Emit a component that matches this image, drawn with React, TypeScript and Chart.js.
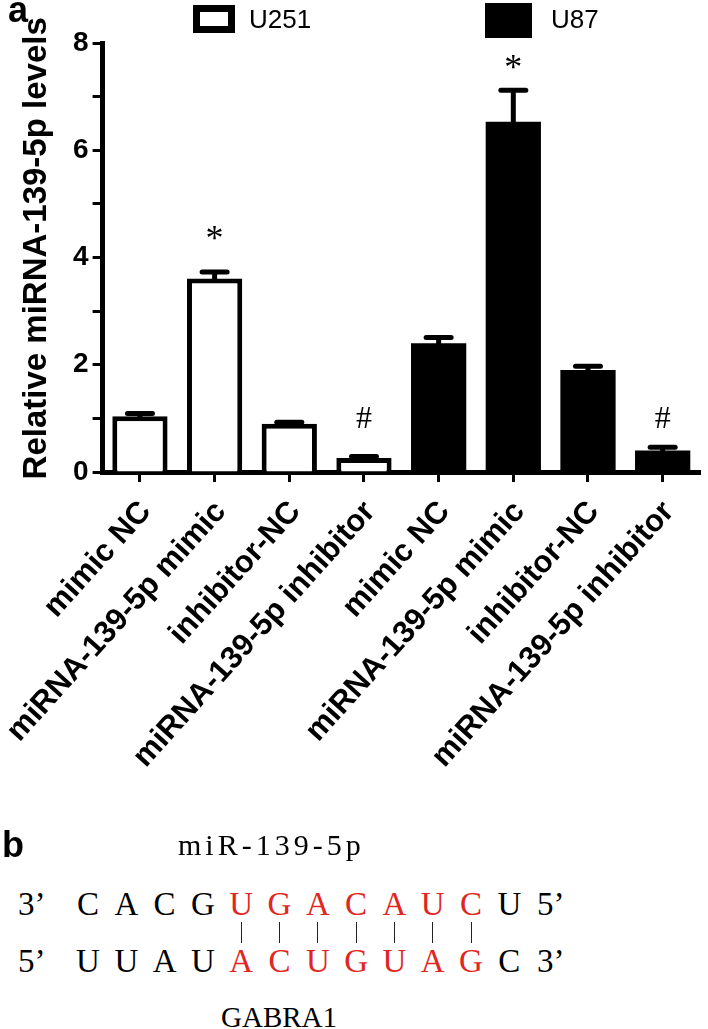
import React, { useEffect, useRef } from 'react';
import { Chart, registerables } from 'chart.js';

Chart.register(...registerables);

// ---------- data ----------
const categories = [
  'mimic NC',
  'miRNA-139-5p mimic',
  'inhibitor-NC',
  'miRNA-139-5p inhibitor',
  'mimic NC',
  'miRNA-139-5p mimic',
  'inhibitor-NC',
  'miRNA-139-5p inhibitor',
];
const seriesNames = ['U251', 'U87'];
const u251Means = [1.04, 3.61, 0.9, 0.26];
const u251Errors = [0.05, 0.12, 0.03, 0.03];
const u87Means = [2.4, 6.53, 1.9, 0.4];
const u87Errors = [0.11, 0.59, 0.07, 0.06];
const yTickLabels = [0, 2, 4, 6, 8];
const markText = ['*', '#', '*', '#'];
const markCategory = [1, 3, 5, 7];
const markValue = [4.45, 1.02, 7.64, 1.02];

const yTitle = 'Relative miRNA-139-5p levels';
const mirName = 'miR-139-5p';
const targetName = 'GABRA1';
const mirSeq = ['C', 'A', 'C', 'G', 'U', 'G', 'A', 'C', 'A', 'U', 'C', 'U'];
const targetSeq = ['U', 'U', 'A', 'U', 'A', 'C', 'U', 'G', 'U', 'A', 'G', 'C'];
const pairStart = 4;
const pairEnd = 10;

// ---------- layout ----------
const W = 708;
const CANVAS_H = 830;
const SANS = "'Liberation Sans', Arial, sans-serif";
const SERIF = "'Liberation Serif', 'Times New Roman', serif";
const RED = '#e0261e';

const pad4 = (arr: number[], first: boolean) =>
  first ? [...arr, null, null, null, null] : [null, null, null, null, ...arr];

const errorSets = [pad4(u251Errors, true), pad4(u87Errors, false)];

const errorBarPlugin = {
  id: 'errorBars',
  afterDatasetsDraw(chart: any) {
    const ctx = chart.ctx;
    const ys = chart.scales.y;
    chart.data.datasets.forEach((ds: any, di: number) => {
      const meta = chart.getDatasetMeta(di);
      meta.data.forEach((bar: any, i: number) => {
        const v = ds.data[i];
        const e = errorSets[di][i];
        if (v == null || e == null) return;
        const x = bar.x;
        const y0 = ys.getPixelForValue(v);
        const y1 = ys.getPixelForValue(v + e);
        ctx.save();
        ctx.strokeStyle = '#000';
        ctx.lineWidth = 5;
        ctx.lineCap = 'butt';
        ctx.beginPath();
        ctx.moveTo(x, y0 + 2);
        ctx.lineTo(x, y1);
        ctx.stroke();
        ctx.lineCap = 'round';
        ctx.beginPath();
        ctx.moveTo(x - 12.5, y1);
        ctx.lineTo(x + 12.5, y1);
        ctx.stroke();
        ctx.restore();
      });
    });
  },
};

const markPlugin = {
  id: 'marks',
  afterDatasetsDraw(chart: any) {
    const ctx = chart.ctx;
    const xs = chart.scales.x;
    const ys = chart.scales.y;
    ctx.save();
    ctx.fillStyle = '#000';
    ctx.textAlign = 'center';
    ctx.textBaseline = 'alphabetic';
    markText.forEach((t, i) => {
      ctx.font = t === '*' ? `36px ${SERIF}` : `32px ${SERIF}`;
      const x = xs.getPixelForValue(markCategory[i]);
      const yc = ys.getPixelForValue(markValue[i]);
      const m = ctx.measureText(t);
      const base = yc + (m.actualBoundingBoxAscent - m.actualBoundingBoxDescent) / 2;
      ctx.fillText(t, x, base);
    });
    ctx.restore();
  },
};

function BarChart() {
  const ref = useRef<HTMLCanvasElement | null>(null);
  useEffect(() => {
    if (!ref.current) return;
    const chart = new Chart(ref.current, {
      type: 'bar',
      data: {
        labels: categories,
        datasets: [
          {
            label: seriesNames[0],
            data: pad4(u251Means, true) as any,
            backgroundColor: '#ffffff',
            borderColor: '#000000',
            borderWidth: 5,
            grouped: false,
            barPercentage: 0.74,
            categoryPercentage: 1,
          } as any,
          {
            label: seriesNames[1],
            data: pad4(u87Means, false) as any,
            backgroundColor: '#000000',
            borderColor: '#000000',
            borderWidth: 0,
            grouped: false,
            barPercentage: 0.74,
            categoryPercentage: 1,
          } as any,
        ],
      },
      options: {
        responsive: false,
        animation: false,
        devicePixelRatio: 1,
        layout: { padding: { top: 43, right: 8, left: 0, bottom: 0 } },
        plugins: {
          legend: { display: false },
          tooltip: { enabled: false },
        },
        scales: {
          x: {
            afterFit: (s: any) => {
              s.height = CANVAS_H - 472;
            },
            grid: {
              display: true,
              offset: false,
              drawOnChartArea: false,
              drawTicks: true,
              tickLength: 10,
              tickWidth: 3,
              color: '#000',
            },
            border: { display: true, width: 5, color: '#000' },
            ticks: {
              autoSkip: false,
              maxRotation: 48,
              minRotation: 48,
              padding: 12,
              labelOffset: 6,
              color: '#000',
              font: { family: SANS, size: 31, weight: 'bold' },
            },
          },
          y: {
            min: 0,
            max: 8,
            afterFit: (s: any) => {
              s.width = 102.6;
            },
            grid: {
              display: true,
              drawOnChartArea: false,
              drawTicks: true,
              tickLength: 10,
              tickWidth: 3,
              color: '#000',
            },
            border: { display: true, width: 5, color: '#000' },
            ticks: {
              stepSize: 1,
              padding: 4,
              color: '#000',
              font: { family: SANS, size: 28, weight: 'bold' },
              callback: (v: any) => (yTickLabels.includes(Number(v)) ? String(v) : ''),
            },
            title: {
              display: true,
              text: '  ' + yTitle,
              color: '#000',
              font: { family: SANS, size: 33, weight: 'bold' },
              padding: { top: 17, bottom: 0 },
            },
          },
        },
      },
      plugins: [errorBarPlugin, markPlugin],
    } as any);
    return () => chart.destroy();
  }, []);
  return (
    <canvas
      ref={ref}
      width={W}
      height={CANVAS_H}
      style={{ position: 'absolute', left: 0, top: 0, width: W, height: CANVAS_H }}
    />
  );
}

type TxtProps = {
  text: string;
  x: number;
  baseline: number;
  size: number;
  family: string;
  bold?: boolean;
  color?: string;
  center?: boolean;
  spacing?: number;
};

function Txt({ text, x, baseline, size, family, bold, color, center, spacing }: TxtProps) {
  const asc = family === SERIF ? 0.891 : 0.905;
  return (
    <div
      style={{
        position: 'absolute',
        left: x,
        top: baseline - asc * size,
        fontFamily: family,
        fontSize: size,
        fontWeight: bold ? 'bold' : 'normal',
        lineHeight: 'normal',
        whiteSpace: 'nowrap',
        color: color || '#000',
        letterSpacing: spacing ? `${spacing}px` : undefined,
        transform: center ? 'translateX(-50%)' : undefined,
      }}
    >
      {text}
    </div>
  );
}

export default function App() {
  const seqX0 = 88;
  const seqStep = 38.3;
  const row1 = 915;
  const row2 = 972;
  const letterSize = 33;
  const isPair = (i: number) => i >= pairStart && i <= pairEnd;
  return (
    <div
      style={{
        position: 'absolute',
        left: 0,
        top: 0,
        width: W,
        height: 1029,
        background: '#fff',
        overflow: 'hidden',
      }}
    >
      <BarChart />
      {/* panel label a */}
      <Txt text="a" x={8} baseline={22} size={36} family={SANS} bold />
      {/* legend */}
      <div
        style={{
          position: 'absolute',
          left: 193,
          top: 5,
          width: 42,
          height: 28,
          boxSizing: 'border-box',
          border: '7px solid #000',
          background: '#fff',
        }}
      />
      <Txt text={seriesNames[0]} x={249} baseline={28} size={26} family={SANS} />
      <div
        style={{
          position: 'absolute',
          left: 485,
          top: 3,
          width: 47,
          height: 35,
          background: '#000',
        }}
      />
      <Txt text={seriesNames[1]} x={551} baseline={28} size={26} family={SANS} />

      {/* panel b */}
      <Txt text="b" x={2} baseline={857} size={36} family={SANS} bold />
      <Txt text={mirName} x={178} baseline={855} size={30} family={SERIF} spacing={4} />
      <Txt text={'3\u2019'} x={18} baseline={row1} size={letterSize} family={SERIF} />
      {mirSeq.map((c, i) => (
        <Txt
          key={'m' + i}
          text={c}
          x={seqX0 + seqStep * i}
          baseline={row1}
          size={letterSize}
          family={SERIF}
          center
          color={isPair(i) ? RED : '#000'}
        />
      ))}
      <Txt text={'5\u2019'} x={537} baseline={row1} size={letterSize} family={SERIF} />
      {mirSeq.map((_, i) =>
        isPair(i) ? (
          <div
            key={'l' + i}
            style={{
              position: 'absolute',
              left: seqX0 + seqStep * i - 0.5,
              top: 922,
              width: 1,
              height: 21,
              background: '#222',
            }}
          />
        ) : null
      )}
      <Txt text={'5\u2019'} x={18} baseline={row2} size={letterSize} family={SERIF} />
      {targetSeq.map((c, i) => (
        <Txt
          key={'t' + i}
          text={c}
          x={seqX0 + seqStep * i}
          baseline={row2}
          size={letterSize}
          family={SERIF}
          center
          color={isPair(i) ? RED : '#000'}
        />
      ))}
      <Txt text={'3\u2019'} x={537} baseline={row2} size={letterSize} family={SERIF} />
      <Txt text={targetName} x={221} baseline={1027} size={29} family={SERIF} />
    </div>
  );
}
